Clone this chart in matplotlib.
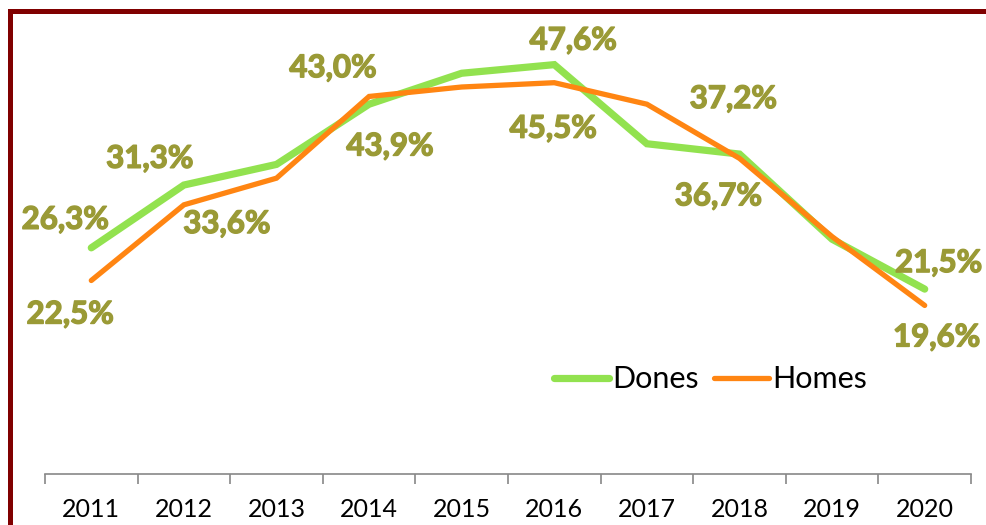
import matplotlib
matplotlib.use("Agg")
import matplotlib.pyplot as plt
import matplotlib.patheffects as pe
from matplotlib.lines import Line2D

plt.rcParams['font.family'] = ['Lato', 'DejaVu Sans']

years = ["2011", "2012", "2013", "2014", "2015", "2016", "2017", "2018", "2019", "2020"]
dones = [26.3, 33.6, 36.0, 43.0, 46.6, 47.6, 38.4, 37.2, 27.3, 21.5]
homes = [22.5, 31.3, 34.4, 43.9, 45.0, 45.5, 43.0, 36.7, 27.6, 19.6]
labelled = [0, 1, 3, 5, 7, 9]

# label offsets in pixels from the point (layout only)
dones_off = {0: (-26, 28), 1: (43, -39), 3: (-36, 36), 5: (19, 24), 7: (-6, 55), 9: (14, 26)}
homes_off = {0: (-21, -34), 1: (-34, 46), 3: (21, -50), 5: (-1, -46), 7: (-21, -38), 9: (12, -32)}

green = "#92E24F"
orange = "#FF8512"
lab_col = "#9A9A36"
border = "#800000"

fig = plt.figure(figsize=(9.87, 5.25), dpi=100)
ax = fig.add_axes([45/987, 51/525, 926/987, 430/525])

x = list(range(len(years)))
ax.plot(x, dones, color=green, lw=5.2, solid_capstyle="round", solid_joinstyle="miter", label="Dones")
ax.plot(x, homes, color=orange, lw=3.8, solid_capstyle="round", solid_joinstyle="miter", label="Homes")

def fmt(v):
    return f"{v:.1f}%".replace(".", ",")

thick = [pe.withStroke(linewidth=1.0, foreground=lab_col)]
for i in labelled:
    ax.annotate(fmt(dones[i]), (x[i], dones[i]), xytext=dones_off[i], textcoords="offset pixels",
                ha="center", va="center", fontsize=22.5, fontweight="bold", color=lab_col,
                path_effects=thick)
    ax.annotate(fmt(homes[i]), (x[i], homes[i]), xytext=homes_off[i], textcoords="offset pixels",
                ha="center", va="center", fontsize=22.5, fontweight="bold", color=lab_col,
                path_effects=thick)

ax.set_xlim(-0.5, len(years) - 0.5)
ax.set_ylim(0, 50)
ax.set_yticks([])
for s in ["left", "right", "top"]:
    ax.spines[s].set_visible(False)
ax.spines["bottom"].set_color("#888888")
ax.spines["bottom"].set_linewidth(1.2)

ax.set_xticks([i - 0.5 for i in range(len(years) + 1)])
ax.set_xticklabels([])
ax.set_xticks(x, minor=True)
ax.set_xticklabels(years, minor=True, fontsize=18)
ax.tick_params(axis="x", which="major", length=7, width=1.2, color="#888888")
ax.tick_params(axis="x", which="minor", length=0, pad=17)

leg = ax.legend(loc="center left", bbox_to_anchor=(0.52, 0.22), ncol=2, frameon=False,
                fontsize=22, handlelength=1.8, handletextpad=0.1, columnspacing=0.5)

# dark red frame on the left and top edges
fig.add_artist(Line2D([9.7/987, 9.7/987], [0, 1 - 10.5/525], transform=fig.transFigure,
                      color=border, lw=3.6, solid_capstyle="projecting"))
fig.add_artist(Line2D([9.7/987, 1], [1 - 10.5/525, 1 - 10.5/525], transform=fig.transFigure,
                      color=border, lw=3.6, solid_capstyle="projecting"))

fig.savefig("out.png", dpi=100)
